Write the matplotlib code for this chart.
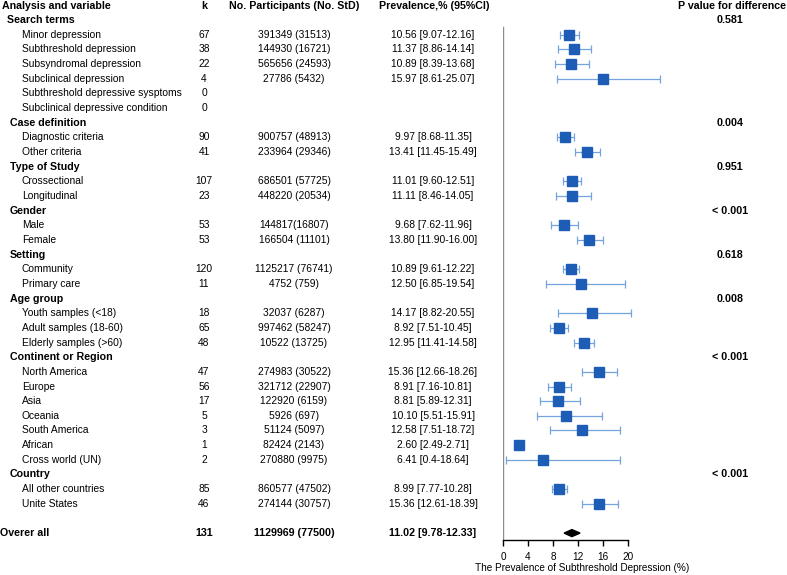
import matplotlib
matplotlib.use("Agg")
import matplotlib.pyplot as plt
import matplotlib.transforms as mtransforms
import numpy as np

plt.rcParams['font.family'] = ['Liberation Sans', 'DejaVu Sans']

# ---------------- data ----------------
groups = ["Search terms", "Case definition", "Type of Study", "Gender", "Setting",
          "Age group", "Continent or Region", "Country"]
group_p = ["0.581", "0.004", "0.951", "< 0.001", "0.618", "0.008", "< 0.001", "< 0.001"]

sub_labels = [
    ["Minor depression", "Subthreshold depression", "Subsyndromal depression",
     "Subclinical depression", "Subthreshold depressive sysptoms", "Subclinical depressive condition"],
    ["Diagnostic criteria", "Other criteria"],
    ["Crossectional", "Longitudinal"],
    ["Male", "Female"],
    ["Community", "Primary care"],
    ["Youth samples (<18)", "Adult samples (18-60)", "Elderly samples (>60)"],
    ["North America", "Europe", "Asia", "Oceania", "South America", "African", "Cross world (UN)"],
    ["All other countries", "Unite States"],
]
sub_k = [
    ["67", "38", "22", "4", "0", "0"],
    ["90", "41"],
    ["107", "23"],
    ["53", "53"],
    ["120", "11"],
    ["18", "65", "48"],
    ["47", "56", "17", "5", "3", "1", "2"],
    ["85", "46"],
]
sub_participants = [
    ["391349 (31513)", "144930 (16721)", "565656 (24593)", "27786 (5432)", "", ""],
    ["900757 (48913)", "233964 (29346)"],
    ["686501 (57725)", "448220 (20534)"],
    ["144817(16807)", "166504 (11101)"],
    ["1125217 (76741)", "4752 (759)"],
    ["32037 (6287)", "997462 (58247)", "10522 (13725)"],
    ["274983 (30522)", "321712 (22907)", "122920 (6159)", "5926 (697)", "51124 (5097)",
     "82424 (2143)", "270880 (9975)"],
    ["860577 (47502)", "274144 (30757)"],
]
sub_est = [
    [10.56, 11.37, 10.89, 15.97, None, None],
    [9.97, 13.41],
    [11.01, 11.11],
    [9.68, 13.80],
    [10.89, 12.50],
    [14.17, 8.92, 12.95],
    [15.36, 8.91, 8.81, 10.10, 12.58, 2.60, 6.41],
    [8.99, 15.36],
]
sub_lo = [
    [9.07, 8.86, 8.39, 8.61, None, None],
    [8.68, 11.45],
    [9.60, 8.46],
    [7.62, 11.90],
    [9.61, 6.85],
    [8.82, 7.51, 11.41],
    [12.66, 7.16, 5.89, 5.51, 7.51, 2.49, 0.4],
    [7.77, 12.61],
]
sub_hi = [
    [12.16, 14.14, 13.68, 25.07, None, None],
    [11.35, 15.49],
    [12.51, 14.05],
    [11.96, 16.00],
    [12.22, 19.54],
    [20.55, 10.45, 14.58],
    [18.26, 10.81, 12.31, 15.91, 18.72, 2.71, 18.64],
    [10.28, 18.39],
]
sub_ci_text = [
    ["10.56 [9.07-12.16]", "11.37 [8.86-14.14]", "10.89 [8.39-13.68]", "15.97 [8.61-25.07]", "", ""],
    ["9.97 [8.68-11.35]", "13.41 [11.45-15.49]"],
    ["11.01 [9.60-12.51]", "11.11 [8.46-14.05]"],
    ["9.68 [7.62-11.96]", "13.80 [11.90-16.00]"],
    ["10.89 [9.61-12.22]", "12.50 [6.85-19.54]"],
    ["14.17 [8.82-20.55]", "8.92 [7.51-10.45]", "12.95 [11.41-14.58]"],
    ["15.36 [12.66-18.26]", "8.91 [7.16-10.81]", "8.81 [5.89-12.31]", "10.10 [5.51-15.91]",
     "12.58 [7.51-18.72]", "2.60 [2.49-2.71]", "6.41 [0.4-18.64]"],
    ["8.99 [7.77-10.28]", "15.36 [12.61-18.39]"],
]

overall_label = "Overer all"
overall_k = "131"
overall_participants = "1129969 (77500)"
overall_ci_text = "11.02 [9.78-12.33]"
overall_est, overall_lo, overall_hi = 11.02, 9.78, 12.33

headers = ["Analysis and variable", "k", "No. Participants (No. StD)",
           "Prevalence,% (95%CI)", "P value for difference"]
xticks = [0, 4, 8, 12, 16, 20]
xlabel = "The Prevalence of Subthreshold Depression (%)"

# ---------------- layout ----------------
W, H = 787, 575
fig = plt.figure(figsize=(W / 100, H / 100), dpi=100)

row0_px, row_h = 20.0, 14.66
ax_bottom_px = 540.0
ax_left_px, ax_right_px = 503.0, 628.0
ax = fig.add_axes([ax_left_px / W, (H - ax_bottom_px) / H,
                   (ax_right_px - ax_left_px) / W, ax_bottom_px / H])
ymax = (ax_bottom_px - row0_px) / row_h
ymin = -row0_px / row_h
ax.set_ylim(ymax, ymin)
ax.set_xlim(0, 20)

trans = mtransforms.blended_transform_factory(fig.transFigure, ax.transData)

FS = 7.4
FSB = 7.7
marker_c = "#1E5DB5"
err_c = "#74A3DE"

def fx(px):
    return px / W

x_label_px = 2
x_item_px = 22
x_k_px = 204
x_part_px = 294
x_ci_px = 433
x_p_px = 730

# header row
hy = (6 - row0_px) / row_h
ax.text(fx(x_label_px), hy, headers[0], transform=trans, ha="left", va="center",
        fontsize=FSB, fontweight="bold", clip_on=False)
ax.text(fx(x_k_px), hy, headers[1], transform=trans, ha="center", va="center",
        fontsize=FSB, fontweight="bold", clip_on=False)
ax.text(fx(x_part_px), hy, headers[2], transform=trans, ha="center", va="center",
        fontsize=FSB, fontweight="bold", clip_on=False)
ax.text(fx(434), hy, headers[3], transform=trans, ha="center", va="center",
        fontsize=FSB, fontweight="bold", clip_on=False)
ax.text(fx(786), hy, headers[4], transform=trans, ha="right", va="center",
        fontsize=FSB, fontweight="bold", clip_on=False)

row = 0
for gi, g in enumerate(groups):
    gx = 7 if gi == 0 else 10
    ax.text(fx(gx), row, g, transform=trans, ha="left", va="center",
            fontsize=FSB, fontweight="bold", clip_on=False)
    ax.text(fx(x_p_px), row, group_p[gi], transform=trans, ha="center", va="center",
            fontsize=FSB, fontweight="bold", clip_on=False)
    row += 1
    for j, lab in enumerate(sub_labels[gi]):
        ax.text(fx(x_item_px), row, lab, transform=trans, ha="left", va="center",
                fontsize=FS, clip_on=False)
        ax.text(fx(x_k_px), row, sub_k[gi][j], transform=trans, ha="center", va="center",
                fontsize=FS, clip_on=False)
        ax.text(fx(x_part_px), row, sub_participants[gi][j], transform=trans, ha="center",
                va="center", fontsize=FS, clip_on=False)
        ax.text(fx(x_ci_px), row, sub_ci_text[gi][j], transform=trans, ha="center",
                va="center", fontsize=FS, clip_on=False)
        e = sub_est[gi][j]
        if e is not None:
            lo, hi = sub_lo[gi][j], sub_hi[gi][j]
            ax.errorbar([e], [row], xerr=[[e - lo], [hi - e]], fmt="none",
                        ecolor=err_c, elinewidth=0.9, capsize=2.6, capthick=0.9,
                        clip_on=False, zorder=2)
            ax.plot([e], [row], marker="s", markersize=6.8, color=marker_c,
                    linestyle="none", clip_on=False, zorder=3)
        row += 1

row += 1  # blank row
ax.text(fx(0), row, overall_label, transform=trans, ha="left", va="center",
        fontsize=FSB, fontweight="bold", clip_on=False)
ax.text(fx(x_k_px), row, overall_k, transform=trans, ha="center", va="center",
        fontsize=FSB, fontweight="bold", clip_on=False)
ax.text(fx(x_part_px), row, overall_participants, transform=trans, ha="center",
        va="center", fontsize=FSB, fontweight="bold", clip_on=False)
ax.text(fx(x_ci_px), row, overall_ci_text, transform=trans, ha="center",
        va="center", fontsize=FSB, fontweight="bold", clip_on=False)
dh = 0.24
ax.fill([overall_lo, overall_est, overall_hi, overall_est],
        [row, row - dh, row, row + dh], color="black", zorder=3, clip_on=False)

# vertical reference line
ax.axvline(0, ymin=0, ymax=(ax_bottom_px - 27) / ax_bottom_px, color="#8c8c8c", lw=1.0)

for s in ["top", "right", "left"]:
    ax.spines[s].set_visible(False)
ax.spines["bottom"].set_color("black")
ax.spines["bottom"].set_linewidth(1.0)
ax.set_yticks([])
ax.set_xticks(xticks)
ax.set_xticklabels([str(t) for t in xticks])
ax.tick_params(axis="x", length=4.5, width=1.0, pad=4.5, labelsize=7.2)
ax.patch.set_alpha(0)

fig.text(fx(582), (H - 568) / H, xlabel, ha="center", va="center", fontsize=7.2)

fig.savefig("out.png", dpi=100)
